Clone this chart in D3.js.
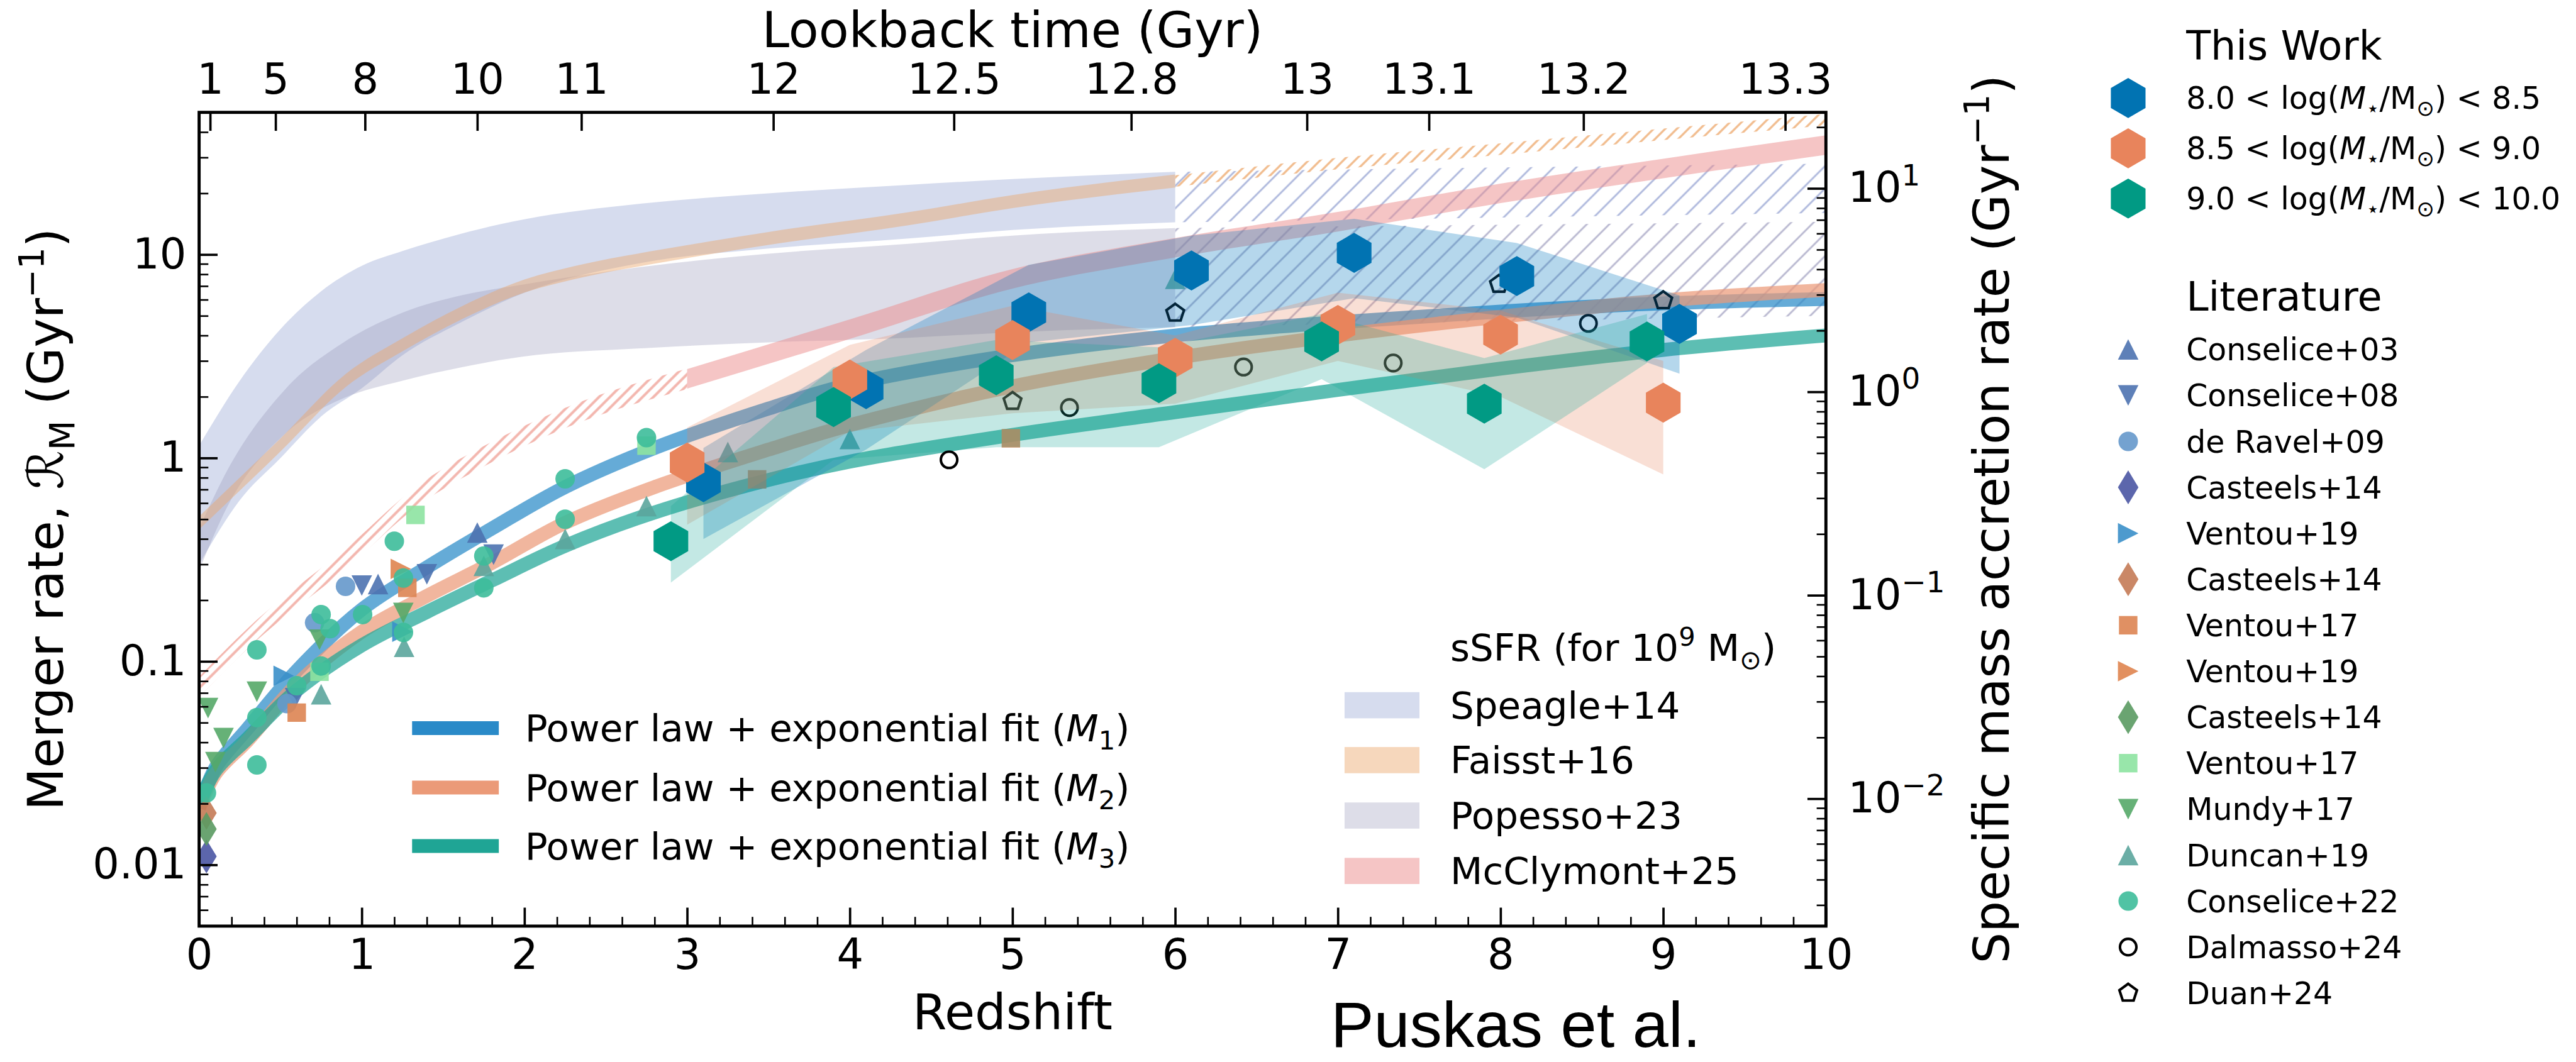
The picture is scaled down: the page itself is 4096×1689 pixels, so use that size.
<!DOCTYPE html>
<html>
<head>
<meta charset="utf-8">
<script src="https://cdn.jsdelivr.net/npm/d3@7/dist/d3.min.js"></script>
<style>
  html, body { margin: 0; padding: 0; background: #fff; }
  svg { display: block; }
</style>
</head>
<body>
<div id="chart"></div>
<script>
// ---- values ----
var lookbackLabels = ['1', '5', '8', '10', '11', '12', '12.5', '12.8', '13', '13.1', '13.2', '13.3'];
var lookbackZ = [0.068, 0.47, 1.02, 1.71, 2.35, 3.53, 4.64, 5.73, 6.81, 7.56, 8.51, 9.75];
var redshiftTicks = [0, 1, 2, 3, 4, 5, 6, 7, 8, 9, 10];
var rateTicks = [0.01, 0.1, 1, 10];
var rateTickLabels = ['0.01', '0.1', '1', '10'];
var accretionExps = [-2, -1, 0, 1];
var rateToAccretion = 0.473;

// sSFR bands: [z, low, high]
var speagleBand = [[0, 0.30, 1.15], [0.25, 0.62, 2.4], [0.5, 1.0, 4.3], [0.75, 1.6, 6.6], [1.0, 2.2, 8.8],
  [1.25, 3.2, 10.4], [1.6, 4.6, 12.6], [2.0, 6.5, 14.9], [2.72, 9.1, 17.8], [3.5, 10.7, 20.0],
  [4.36, 12.0, 22.0], [5.0, 13.2, 23.5], [6.0, 14.4, 25.5]];
var speagleHatch = [[6.0, 14.4, 25.5], [8.0, 15.2, 26.8], [10.0, 16.0, 28.0]];
var popessoBand = [[0, 0.28, 0.45], [0.17, 0.57, 0.86], [0.53, 1.32, 2.18], [0.89, 1.97, 3.71],
  [1.25, 2.4, 5.18], [1.62, 2.8, 6.32], [1.98, 3.14, 7.1], [2.72, 3.46, 8.7], [3.5, 3.7, 10.1],
  [4.36, 3.9, 11.3], [5.0, 4.15, 12.4], [6.0, 4.4, 13.5]];
var popessoHatch = [[6.0, 4.4, 13.5], [8.0, 4.7, 14.0], [10.0, 5.0, 14.5]];
// thin bands: [z, centre]
var faisstMid = [[0, 0.48], [0.5, 1.16], [0.9, 2.4], [1.25, 3.6], [1.62, 5.2], [2.0, 7.0], [2.35, 8.3],
  [2.83, 9.8], [3.5, 12.0], [4.36, 15.0], [5.0, 18.2], [6.0, 23.0]];
var faisstHatchMid = [[6.0, 23.0], [7.0, 28.0], [8.0, 33.0], [9.0, 39.0], [10.0, 46.0]];
var mcclymontHatchMid = [[0, 0.075], [0.3, 0.13], [0.94, 0.34], [1.33, 0.64], [1.78, 1.05], [2.23, 1.55], [3.0, 2.45]];
var mcclymontMid = [[3.0, 2.45], [4.0, 4.3], [5.0, 7.6], [6.0, 10.8], [7.0, 14.5], [8.0, 20.0], [9.0, 26.5], [10.0, 34.5]];

// power law + exponential fits
var fitZ = [0, 0.1, 0.3, 0.6, 1.0, 1.4, 1.8, 2.25, 2.8, 3.5, 4, 5, 6, 7, 8, 9, 10];
var fitM1 = [0.019, 0.03, 0.047, 0.09, 0.18, 0.29, 0.45, 0.72, 1.12, 1.75, 2.3, 3.2, 4.0, 4.65, 5.25, 5.75, 6.05];
var fitM2 = [0.019, 0.028, 0.041, 0.077, 0.14, 0.21, 0.305, 0.48, 0.72, 1.1, 1.45, 2.25, 3.1, 4.0, 4.95, 5.95, 6.7];
var fitM3 = [0.02, 0.029, 0.042, 0.072, 0.12, 0.175, 0.25, 0.37, 0.54, 0.78, 0.96, 1.3, 1.68, 2.16, 2.75, 3.4, 4.0];

// this work: [z, rate] and error bands [z, low, high]
var workM1 = [[3.10, 0.76], [4.10, 2.18], [5.10, 5.2], [6.10, 8.35], [7.10, 10.2], [8.10, 7.84], [9.10, 4.56]];
var workM2 = [[3.0, 0.95], [4.0, 2.43], [5.0, 3.8], [6.0, 3.11], [7.0, 4.51], [8.0, 4.04], [9.0, 1.87]];
var workM3 = [[2.90, 0.39], [3.90, 1.78], [4.90, 2.55], [5.90, 2.33], [6.90, 3.74], [7.90, 1.85], [8.90, 3.74]];
var errM1 = [[3.10, 0.40, 1.12], [4.10, 1.1, 3.4], [5.10, 3.7, 8.9], [6.10, 4.5, 12.4], [7.10, 6.1, 15.0], [8.10, 4.9, 11.4], [9.10, 2.6, 6.3]];
var errM2 = [[3.0, 0.47, 1.41], [4.0, 1.35, 3.6], [5.0, 1.66, 5.6], [6.0, 1.85, 4.0], [7.0, 3.0, 6.5], [8.0, 2.0, 5.3], [9.0, 0.83, 3.0]];
var errM3 = [[2.9, 0.244, 0.58], [3.9, 0.98, 2.8], [4.9, 1.13, 3.8], [5.9, 1.13, 3.5], [6.9, 2.44, 5.1], [7.9, 0.88, 3.1], [8.9, 2.93, 5.1]];
var workLabels = [['8.0', '8.5'], ['8.5', '9.0'], ['9.0', '10.0']];

// literature
var conselice03 = [[1.1, 0.24], [1.71, 0.43]];
var conselice08 = [[0.59, 0.066], [1.0, 0.236], [1.4, 0.268], [1.81, 0.335]];
var deRavel09 = [[0.54, 0.062], [0.71, 0.155], [0.9, 0.234]];
var casteels14a = [[0.045, 0.011]];
var ventou19a = [[0.52, 0.085], [1.25, 0.14]];
var casteels14b = [[0.045, 0.018]];
var ventou17a = [[0.6, 0.056], [1.28, 0.23], [3.43, 0.785], [4.99, 1.25]];
var ventou19b = [[1.24, 0.285]];
var casteels14c = [[0.045, 0.015]];
var ventou17b = [[0.74, 0.089], [1.33, 0.525], [2.75, 1.15]];
var mundy17 = [[0.055, 0.059], [0.10, 0.032], [0.15, 0.042], [0.355, 0.071], [0.74, 0.128], [1.255, 0.173]];
var duncan19 = [[0.75, 0.069], [1.26, 0.118], [1.75, 0.295], [2.25, 0.40], [2.75, 0.58], [3.25, 1.07], [4.0, 1.24], [6.0, 7.6]];
var conselice22 = [[0.045, 0.0226], [0.355, 0.114], [0.355, 0.053], [0.355, 0.031], [0.6, 0.076], [0.75, 0.17],
  [0.805, 0.145], [0.75, 0.095], [1.005, 0.17], [1.2, 0.39], [1.256, 0.257], [1.256, 0.139], [1.75, 0.33],
  [1.75, 0.23], [2.25, 0.79], [2.25, 0.50], [2.75, 1.26]];
var dalmasso24 = [[4.61, 0.98], [5.35, 1.77], [6.42, 2.8], [7.34, 2.93], [8.54, 4.59]];
var duan24 = [[5.0, 1.9], [6.0, 5.16], [7.99, 7.15], [9.0, 5.94]];

var litNames = ['Conselice+03', 'Conselice+08', 'de Ravel+09', 'Casteels+14', 'Ventou+19', 'Casteels+14',
  'Ventou+17', 'Ventou+19', 'Casteels+14', 'Ventou+17', 'Mundy+17', 'Duncan+19', 'Conselice+22',
  'Dalmasso+24', 'Duan+24'];
var litPoints = [conselice03, conselice08, deRavel09, casteels14a, ventou19a, casteels14b, ventou17a,
  ventou19b, casteels14c, ventou17b, mundy17, duncan19, conselice22, dalmasso24, duan24];
var litSymbols = ['triUp', 'triDown', 'circle', 'thinDiamond', 'triRight', 'thinDiamond', 'square',
  'triRight', 'thinDiamond', 'square', 'triDown', 'triUp', 'circle', 'openCircle', 'openPentagon'];
var litColors = ['#4c72b0', '#4c72b0', '#6598cb', '#4a55a3', '#3a8fc9', '#c47a55', '#dd8452', '#df844f',
  '#5a9a62', '#8de3a1', '#55a868', '#5ba59c', '#3dbd9a', '#000', '#000'];

var ssfrNames = ['Speagle+14', 'Faisst+16', 'Popesso+23', 'McClymont+25'];

// ---- layout (reference pixels, scaled down once) ----
var S = 0.816;
var M = {left: 388, right: 3558, top: 219, bottom: 1805};
var FONT = "'DejaVu Sans', sans-serif";

var svg = d3.select('#chart').append('svg').attr('width', 4096).attr('height', 1689);
var defs = svg.append('defs');
var g = svg.append('g').attr('transform', 'scale(' + S + ')').attr('font-family', FONT);

var x = d3.scaleLinear().domain([0, 10]).range([M.left, M.right]);
var y = d3.scaleLog().domain([0.005, 50]).range([M.bottom, M.top]);
var yR = d3.scaleLog().domain(y.domain().map(function(v) { return v * rateToAccretion; })).range([M.bottom, M.top]);

defs.append('clipPath').attr('id', 'plot-clip').append('rect')
  .attr('x', M.left).attr('y', M.top).attr('width', M.right - M.left).attr('height', M.bottom - M.top);

function hatch(id, color, gap, lw) {
  var p = defs.append('pattern').attr('id', id)
    .attr('patternUnits', 'userSpaceOnUse').attr('width', gap).attr('height', gap)
    .attr('patternTransform', 'rotate(45)');
  p.append('line').attr('x1', gap / 2).attr('x2', gap / 2).attr('y1', -2).attr('y2', gap + 2)
    .attr('stroke', color).attr('stroke-width', lw);
}
hatch('h-speagle', '#aeb8dc', 31, 3.5);
hatch('h-popesso', '#b9b8d0', 31, 3.5);
hatch('h-faisst', '#f1bb8c', 16, 4);
hatch('h-mcclymont', '#f3b6ae', 15, 5);

// rich text: parts are strings or [text, 'it'|'sub'|'sup']
function rich(sel, parts, fs) {
  var shift = 0;
  parts.forEach(function(p) {
    var txt = Array.isArray(p) ? p[0] : p, kind = Array.isArray(p) ? p[1] : '';
    var t = sel.append('tspan').text(txt);
    var target = 0;
    if (kind === 'sub') { target = 0.22 * fs; t.attr('font-size', 0.7 * fs); }
    else if (kind === 'sup') { target = -0.4 * fs; t.attr('font-size', 0.7 * fs); }
    else if (kind === 'it') { t.attr('font-style', 'italic'); }
    if (target - shift !== 0) t.attr('dy', target - shift);
    shift = target;
  });
}

function polyPath(n, r, rot) {
  var pts = d3.range(n).map(function(k) {
    var a = (rot + k * 360 / n) * Math.PI / 180;
    return [r * Math.cos(a), r * Math.sin(a)];
  });
  return 'M' + pts.join('L') + 'Z';
}
function markerPath(type) {
  switch (type) {
    case 'triUp': return 'M0,-20L20,20L-20,20Z';
    case 'triDown': return 'M0,20L20,-20L-20,-20Z';
    case 'triRight': return 'M20,0L-20,20L-20,-20Z';
    case 'square': return 'M-18,-18H18V18H-18Z';
    case 'thinDiamond': return 'M0,-33L20,0L0,33L-20,0Z';
    case 'circle': return d3.symbol(d3.symbolCircle, Math.PI * 19 * 19)();
    case 'openCircle': return d3.symbol(d3.symbolCircle, Math.PI * 16 * 16)();
    case 'openPentagon': return polyPath(5, 18, -90);
    case 'hex': return polyPath(6, 39, -90);
  }
}
function drawMarker(sel, type, color) {
  var open = type.indexOf('open') === 0;
  sel.append('path').attr('d', markerPath(type))
    .attr('fill', open ? 'none' : color)
    .attr('fill-opacity', open ? null : 0.9)
    .attr('stroke', open ? color : 'none')
    .attr('stroke-width', open ? 5 : null);
}

var band = d3.area().x(function(d) { return x(d[0]); })
  .y0(function(d) { return y(d[1]); }).y1(function(d) { return y(d[2]); })
  .curve(d3.curveMonotoneX);
var poly = d3.area().x(function(d) { return x(d[0]); })
  .y0(function(d) { return y(d[1]); }).y1(function(d) { return y(d[2]); });
function thick(pts, hw) {
  var f = Math.pow(10, hw);
  return pts.map(function(d) { return [d[0], d[1] / f, d[1] * f]; });
}

var plot = g.append('g').attr('clip-path', 'url(#plot-clip)');

// sSFR bands
var ssfrStyle = [
  {fill: '#7f93c9', op: 0.32},
  {fill: '#eba66a', op: 0.45},
  {fill: '#9897b9', op: 0.33},
  {fill: '#ec8b8b', op: 0.5}
];
plot.append('path').attr('d', band(speagleBand)).attr('fill', ssfrStyle[0].fill).attr('fill-opacity', ssfrStyle[0].op);
plot.append('path').attr('d', band(speagleHatch)).attr('fill', 'url(#h-speagle)');
plot.append('path').attr('d', band(popessoBand)).attr('fill', ssfrStyle[2].fill).attr('fill-opacity', ssfrStyle[2].op);
plot.append('path').attr('d', band(popessoHatch)).attr('fill', 'url(#h-popesso)');
plot.append('path').attr('d', band(thick(faisstMid, 0.032))).attr('fill', ssfrStyle[1].fill).attr('fill-opacity', ssfrStyle[1].op);
plot.append('path').attr('d', band(thick(faisstHatchMid, 0.028))).attr('fill', 'url(#h-faisst)');
plot.append('path').attr('d', band(thick(mcclymontHatchMid, 0.05))).attr('fill', 'url(#h-mcclymont)');
plot.append('path').attr('d', band(thick(mcclymontMid, 0.048))).attr('fill', ssfrStyle[3].fill).attr('fill-opacity', ssfrStyle[3].op);

// fit lines
var fitColors = ['#2a8ac8', '#eb9a78', '#1fa595'];
var line = d3.line().x(function(d) { return x(d[0]); }).y(function(d) { return y(d[1]); })
  .curve(d3.curveCatmullRom.alpha(0.5));
[fitM1, fitM2, fitM3].forEach(function(vals, i) {
  plot.append('path').attr('d', line(fitZ.map(function(z, j) { return [z, vals[j]]; })))
    .attr('fill', 'none').attr('stroke', fitColors[i]).attr('stroke-opacity', 0.72).attr('stroke-width', 27);
});

// literature points
litPoints.forEach(function(pts, i) {
  pts.forEach(function(d) {
    var m = plot.append('g').attr('transform', 'translate(' + x(d[0]) + ',' + y(d[1]) + ')');
    drawMarker(m, litSymbols[i], litColors[i]);
  });
});

// this work: error bands then hexagons
var workColors = ['#0173b2', '#e8845c', '#019a84'];
var errColors = ['#0a7cc0', '#e8845c', '#17a898'];
[errM1, errM2, errM3].forEach(function(e, i) {
  plot.append('path').attr('d', poly(e)).attr('fill', errColors[i]).attr('fill-opacity', i === 0 ? 0.3 : 0.26);
});
[workM1, workM2, workM3].forEach(function(pts, i) {
  plot.selectAll(null).data(pts).enter().append('path')
    .attr('transform', function(d) { return 'translate(' + x(d[0]) + ',' + y(d[1]) + ')'; })
    .attr('d', markerPath('hex')).attr('fill', workColors[i]);
});

// ---- axes ----
function styleAxis(sel, fs) {
  sel.select('.domain').remove();
  sel.attr('font-size', fs).attr('font-family', FONT);
  sel.selectAll('.tick line').attr('stroke', '#000').attr('stroke-width', 4.5);
  sel.selectAll('.tick text').attr('fill', '#000');
}
function minorAxis(axis, vals, tr) {
  var a = g.append('g').attr('transform', tr)
    .call(axis.tickValues(vals).tickSize(-18).tickFormat(''));
  a.select('.domain').remove();
  a.selectAll('.tick line').attr('stroke', '#000').attr('stroke-width', 3.2);
  a.selectAll('text').remove();
}
var xMinor = d3.range(0, 50).map(function(k) { return k * 0.2; }).filter(function(v) { return Math.abs(v - Math.round(v)) > 1e-6; });
function logMinor(dom) {
  var out = [];
  for (var e = -4; e <= 2; e++) for (var m = 2; m <= 9; m++) {
    var v = m * Math.pow(10, e);
    if (v >= dom[0] && v <= dom[1]) out.push(v);
  }
  return out;
}

var axB = g.append('g').attr('transform', 'translate(0,' + M.bottom + ')')
  .call(d3.axisBottom(x).tickValues(redshiftTicks).tickSize(-36).tickPadding(25).tickFormat(d3.format('d')));
styleAxis(axB, 82);
minorAxis(d3.axisBottom(x), xMinor, 'translate(0,' + M.bottom + ')');

var axT = g.append('g').attr('transform', 'translate(0,' + M.top + ')')
  .call(d3.axisTop(x).tickValues(lookbackZ).tickSize(-36).tickPadding(37)
    .tickFormat(function(d, i) { return lookbackLabels[i]; }));
styleAxis(axT, 82);

var axL = g.append('g').attr('transform', 'translate(' + M.left + ',0)')
  .call(d3.axisLeft(y).tickValues(rateTicks).tickSize(-36).tickPadding(25)
    .tickFormat(function(d, i) { return rateTickLabels[i]; }));
styleAxis(axL, 82);
minorAxis(d3.axisLeft(y), logMinor(y.domain()), 'translate(' + M.left + ',0)');

var accTicks = accretionExps.map(function(e) { return Math.pow(10, e); });
var axR = g.append('g').attr('transform', 'translate(' + M.right + ',0)')
  .call(d3.axisRight(yR).tickValues(accTicks).tickSize(-36).tickFormat(''));
styleAxis(axR, 82);
axR.selectAll('.tick text').remove();
axR.selectAll('.tick').each(function(d, i) {
  var t = d3.select(this).append('text').attr('x', 43).attr('y', 0).attr('dy', '0.32em')
    .attr('fill', '#000').attr('text-anchor', 'start');
  var e = accretionExps[i];
  rich(t, ['10', [(e < 0 ? '\u2212' : '') + Math.abs(e), 'sup']], 82);
});
minorAxis(d3.axisRight(yR), logMinor(yR.domain()), 'translate(' + M.right + ',0)');

g.append('rect').attr('x', M.left).attr('y', M.top)
  .attr('width', M.right - M.left).attr('height', M.bottom - M.top)
  .attr('fill', 'none').attr('stroke', '#000').attr('stroke-width', 6);

// axis titles
var cy = (M.top + M.bottom) / 2;
g.append('text').attr('x', (M.left + M.right) / 2).attr('y', 2006).attr('text-anchor', 'middle')
  .attr('font-size', 96).text('Redshift');
g.append('text').attr('x', (M.left + M.right) / 2).attr('y', 92).attr('text-anchor', 'middle')
  .attr('font-size', 96).text('Lookback time (Gyr)');
var tl = g.append('text').attr('transform', 'translate(123,' + cy + ') rotate(-90)')
  .attr('text-anchor', 'middle').attr('font-size', 96);
rich(tl, ['Merger rate, \u211B', ['M', 'sub'], ' (Gyr', ['\u22121', 'sup'], ')'], 96);
var tr = g.append('text').attr('transform', 'translate(3914,' + cy + ') rotate(-90)')
  .attr('text-anchor', 'middle').attr('font-size', 96);
rich(tr, ['Specific mass accretion rate (Gyr', ['\u22121', 'sup'], ')'], 96);

// ---- legend: fits ----
var fitRows = [1419, 1535, 1649];
fitRows.forEach(function(ry, i) {
  g.append('line').attr('x1', 803).attr('x2', 972).attr('y1', ry).attr('y2', ry)
    .attr('stroke', fitColors[i]).attr('stroke-width', 27);
  var t = g.append('text').attr('x', 1023).attr('y', ry + 0.36 * 73).attr('font-size', 73);
  rich(t, ['Power law + exponential fit (', ['M', 'it'], [String(i + 1), 'sub'], ')'], 73);
});

// ---- legend: sSFR ----
var st = g.append('text').attr('x', 2826).attr('y', 1288).attr('font-size', 73);
rich(st, ['sSFR (for 10', ['9', 'sup'], ' M', ['\u2299', 'sub'], ')'], 73);
var ssfrRows = [1374, 1481, 1589, 1697];
ssfrNames.forEach(function(name, i) {
  g.append('rect').attr('x', 2620).attr('y', ssfrRows[i] - 25).attr('width', 146).attr('height', 51)
    .attr('fill', ssfrStyle[i].fill).attr('fill-opacity', ssfrStyle[i].op);
  g.append('text').attr('x', 2826).attr('y', ssfrRows[i] + 0.36 * 73).attr('font-size', 73).text(name);
});

// ---- legend: right side ----
g.append('text').attr('x', 4260).attr('y', 117).attr('font-size', 78).text('This Work');
var workRows = [191, 289, 387];
workLabels.forEach(function(lab, i) {
  g.append('path').attr('transform', 'translate(4147,' + workRows[i] + ')')
    .attr('d', markerPath('hex')).attr('fill', workColors[i]);
  var t = g.append('text').attr('x', 4260).attr('y', workRows[i] + 0.36 * 60).attr('font-size', 60);
  rich(t, [lab[0] + ' < log(', ['M', 'it'], ['\u22C6', 'sub'], '/M', ['\u2299', 'sub'], ') < ' + lab[1]], 60);
});

g.append('text').attr('x', 4260).attr('y', 606).attr('font-size', 78).text('Literature');
litNames.forEach(function(name, i) {
  var ry = 681 + i * 89.6;
  var m = g.append('g').attr('transform', 'translate(4147,' + ry + ')');
  drawMarker(m, litSymbols[i], litColors[i]);
  g.append('text').attr('x', 4260).attr('y', ry + 0.36 * 60).attr('font-size', 60).text(name);
});

g.append('text').attr('x', 2593).attr('y', 2040)
  .attr('font-family', "'Liberation Sans', Arial, sans-serif").attr('font-size', 126).text('Puskas et al.');
</script>
</body>
</html>
